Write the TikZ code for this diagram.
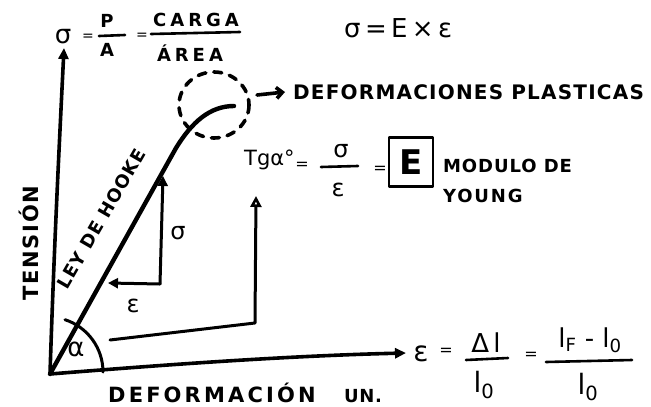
\documentclass[tikz,border=0pt]{standalone}
\usepackage{fontspec}
\setmainfont{DejaVu Sans}
\newfontfamily\markfont{DejaVu Sans Bold}
\newfontfamily\handfont{DejaVu Sans}
\usetikzlibrary{arrows.meta}
\newcommand{\mkf}[2]{\markfont\fontsize{#1}{#1}\selectfont\addfontfeatures{LetterSpace=#2}}
\begin{document}
\begin{tikzpicture}[x=1pt,y=-1pt, line cap=round, line join=round,
  ink/.style={line width=3.6pt},
  thinink/.style={line width=3pt},
  fbar/.style={line width=2.6pt},
  mk/.style 2 args={inner sep=0pt, font=\mkf{#1}{#2}},
  hd/.style={inner sep=0pt, font=\handfont\fontsize{#1}{#1}\selectfont},
  hd/.default=20]
\useasboundingbox (0,0) rectangle (651,407);
\fill[white] (0,0) rectangle (651,407);

% axes
\coordinate (O) at (50,374);
\coordinate (ytip) at (64,48);
\coordinate (xtip) at (406,353);
\draw[ink,-{Triangle[length=11pt,width=10pt]}] (O) .. controls (54,250) and (59,150) .. (ytip);
\draw[ink,-{Triangle[length=11pt,width=10pt]}] (O) .. controls (150,366) and (280,356) .. (xtip);

% Hooke line and plastic curve
\coordinate (H1) at (176,148);
\coordinate (H2) at (234,106);
\draw[line width=4.4pt] (O) -- (H1) .. controls (192,122) and (210,106) .. (H2);

% dashed circle
\draw[ink,dash pattern=on 8pt off 8pt] (214,105) ellipse[x radius=35,y radius=33];
\node[mk={20}{6},anchor=west] (plast) at (293,92) {DEFORMACIONES PLASTICAS};
\coordinate (pa) at (257,95);
\draw[ink,-{Straight Barb[length=6pt,width=11pt]}] (pa) -- ([xshift=-8pt]plast.west);

% alpha arc and tick
\draw[thinink] (103,372) arc[start angle=0,end angle=-72,radius=55];
\node[hd=26] (alpha) at (76,349) {α};

% vertical / horizontal labels
\node[mk={18}{6},rotate=60] (hooke) at (101,219) {LEY DE HOOKE};
\node[mk={21}{8},rotate=90] (tension) at (29,243) {TENSIÓN};
\node[mk={21}{15},anchor=west] (defun) at (108,393) {DEFORMACIÓN};
\node[mk={18}{4},anchor=base west] (un) at ([xshift=28pt]defun.base east) {UN.};

% small sigma / epsilon arrows
\coordinate (c1) at (160,284);
\coordinate (s1) at (163,176);
\coordinate (e1) at (108,283);
\draw[thinink,-{Triangle[length=10pt,width=10pt]}] (c1) -- (s1);
\draw[thinink,-{Triangle[length=10pt,width=10pt]}] (c1) -- (e1);
\node[hd=24] (sig) at (178,233) {σ};
\node[hd=24] (eps) at (133,306) {ε};

% big arrow to Tg
\coordinate (b1) at (110,340);
\coordinate (b2) at (255,323);
\coordinate (b3) at (256,196);
\draw[thinink,-{Triangle[open,length=11pt,width=11pt,line width=2.6pt]}] (b1) -- (b2) -- (b3);

% top formula
\node[hd=26] (sigA) at (63,37) {σ};
\node[hd=14] (eqA) at (88,37) {=};
\node[mk={18}{0}] (P) at (107,21) {P};
\node[mk={18}{0}] (A) at (107,50) {A};
\draw[fbar] (99,36) -- (125,35);
\node[hd=14] (eqB) at (142,36) {=};
\node[mk={18}{22}] (carga) at (196,20) {CARGA};
\node[mk={18}{22}] (area) at (190,53) {ÁREA};
\draw[fbar] (151,34) -- (240,32);

% sigma = E x eps
\node[hd=26,anchor=west] (hooklaw) at (344,28) {σ\,=\,E\,×\,ε};

% Tg alpha
\node[hd=21,anchor=west] (tg) at (244,160) {Tgα°};
\node[hd=16] (eqT) at (302,166) {=};
\node[hd=24] (fs) at (341,151) {σ};
\node[hd=24] (fe) at (338,190) {ε};
\draw[fbar] (321,167) -- (358,166);
\node[hd=16] (eqC) at (380,170) {=};
\node[draw,line width=2.8pt,minimum width=44pt,minimum height=49pt,inner sep=0pt,font=\mkf{34}{0}] (E) at (411,162) {E};
\node[mk={18}{5},anchor=west] (mod) at (443,166) {MODULO DE};
\node[mk={18}{10},anchor=west] (young) at (443,196) {YOUNG};

% strain formula
\node[hd=28] (epsB) at (421,354) {ε};
\node[hd=16] (eqD) at (446,352) {=};
\node[hd=26] (dl) at (486,343) {Δ\,l};
\node[hd=28] (l0a) at (484,385) {l\textsubscript{0}};
\draw[fbar] (466,360) -- (508,358);
\node[hd=16] (eqE) at (531,356) {=};
\node[hd=26] (lf) at (590,340) {l\textsubscript{F} - l\textsubscript{0}};
\draw[fbar] (546,362) -- (632,360);
\node[hd=28] (l0b) at (588,387) {l\textsubscript{0}};
\end{tikzpicture}
\end{document}
